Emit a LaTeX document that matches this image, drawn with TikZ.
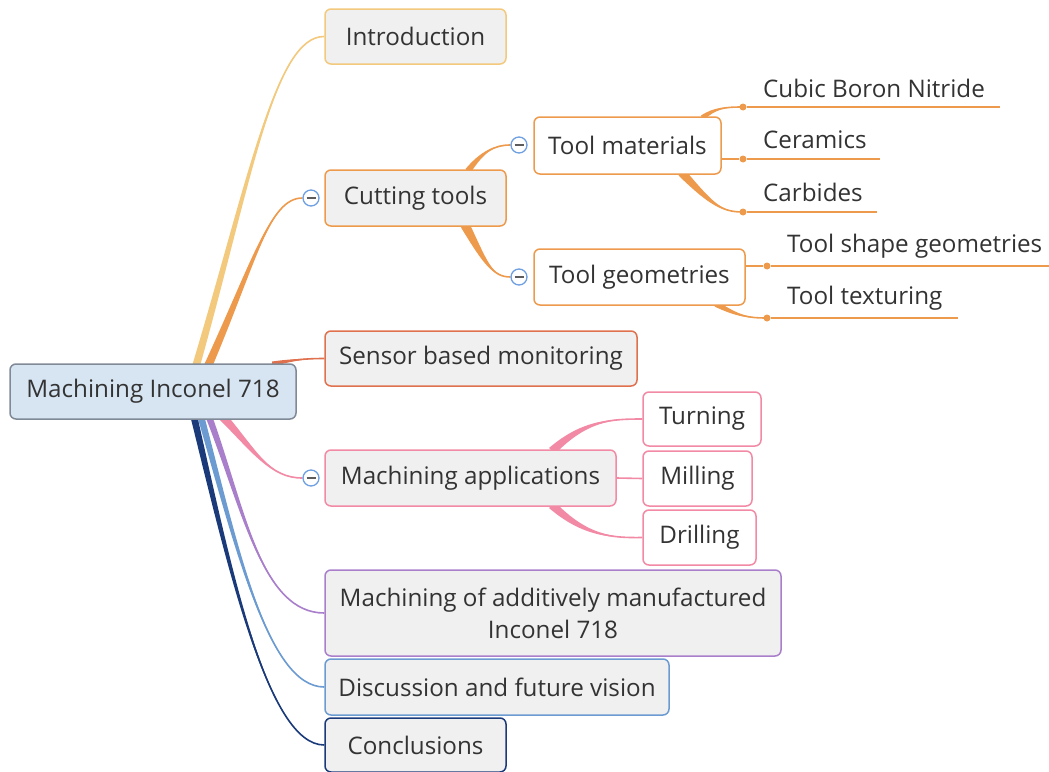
\documentclass[tikz,border=0pt]{standalone}
\usepackage{fontspec}
\setmainfont{Open Sans}
\usetikzlibrary{calc,backgrounds}
\definecolor{cyel}{HTML}{F2C97D}
\definecolor{cora}{HTML}{EE9A4D}
\definecolor{cred}{HTML}{E0714F}
\definecolor{cpink}{HTML}{F28AA5}
\definecolor{cpur}{HTML}{A97FCB}
\definecolor{cblu}{HTML}{6C9BD2}
\definecolor{cnavy}{HTML}{1B3A7A}
\definecolor{rootfill}{HTML}{D7E5F3}
\definecolor{rootline}{HTML}{7F8A96}
\definecolor{boxfill}{HTML}{F0F0F0}
\definecolor{txt}{HTML}{333333}
\definecolor{iconblue}{HTML}{6E9FE0}
\newcommand\mmtaper[6]{%
  \path ($(#1)+(#5)$) coordinate (tA) ($(#1)-(#5)$) coordinate (tB)
        ($(#2)+0.5*(#5)$) coordinate (tC) ($(#2)-0.5*(#5)$) coordinate (tD)
        (#4) coordinate (tE);
  \fill[#6] (tA) .. controls (tC) and (#3) .. (tE) .. controls (#3) and (tD) .. (tB) -- cycle;
  \draw[#6, line width=1.6] (#1) .. controls (#2) and (#3) .. (tE);}
\begin{document}
\begin{tikzpicture}[x=1pt,y=-1pt,
  every node/.style={text=txt, font=\fontsize{24.2}{32}\selectfont},
  topic/.style={draw, rounded corners=6, line width=1.5, fill=boxfill, inner sep=0pt},
  sub/.style={draw, rounded corners=6, line width=1.5, fill=white, inner sep=0pt},
  leaf/.style={anchor=west, inner sep=0pt},
  icon/.style={circle, draw=iconblue, fill=white, line width=1.3, minimum size=16, inner sep=0pt},
  dot/.style={circle, fill=cora, minimum size=7, inner sep=0pt}]
\useasboundingbox (0,0) rectangle (1049,771);
% main nodes
\node[draw=rootline, fill=rootfill, rounded corners=6, line width=1.5, minimum width=286, minimum height=55, inner sep=0pt] (root) at (153,391.5) {Machining Inconel 718};
\node[topic, draw=cyel, minimum width=181, minimum height=55] (intro) at (415.5,36.5) {Introduction};
\node[topic, draw=cora, minimum width=181, minimum height=56] (cut) at (415.5,198) {Cutting tools};
\node[topic, draw=cred, minimum width=312, minimum height=55] (sens) at (481,358.5) {Sensor based monitoring};
\node[topic, draw=cpink, minimum width=291, minimum height=56] (app) at (470.5,478) {Machining applications};
\node[topic, draw=cpur, minimum width=456, minimum height=86, align=center] (add) at (553,613) {Machining of additively manufactured\\Inconel 718};
\node[topic, draw=cblu, minimum width=344, minimum height=56] (disc) at (497,687) {Discussion and future vision};
\node[topic, draw=cnavy, minimum width=181, minimum height=54] (conc) at (415.5,745) {Conclusions};
% sub nodes
\node[sub, draw=cora, minimum width=187, minimum height=57] (mat) at (627.5,145.5) {Tool materials};
\node[sub, draw=cora, minimum width=211, minimum height=56] (geo) at (639.5,277) {Tool geometries};
\node[sub, draw=cpink, minimum width=118, minimum height=54] (turn) at (702,419) {Turning};
\node[sub, draw=cpink, minimum width=109, minimum height=55] (mill) at (697.5,478.5) {Milling};
\node[sub, draw=cpink, minimum width=113, minimum height=55] (drill) at (699.5,537.5) {Drilling};
% leaves
\node[leaf] (cbn) at (763,88) {Cubic Boron Nitride};
\node[leaf] (cer) at (763,140) {Ceramics};
\node[leaf] (carb) at (763,192) {Carbides};
\node[leaf] (shape) at (787,246) {Tool shape geometries};
\node[leaf] (tex) at (787,298) {Tool texturing};
\node[dot] (d1) at (743,107) {};
\node[dot] (d2) at (743,159) {};
\node[dot] (d3) at (743,212) {};
\node[dot] (d4) at (767,266) {};
\node[dot] (d5) at (767,318) {};
\coordinate (e1) at (1000,107);
\coordinate (e2) at (880,159);
\coordinate (e3) at (877,212);
\coordinate (e4) at (1049,266);
\coordinate (e5) at (958,318);
% icons
\node[icon] (i1) at (311,198) {};
\node[icon] (i2) at (519,145) {};
\node[icon] (i3) at (519,277) {};
\node[icon] (i4) at (311,478) {};
\foreach \i in {i1,i2,i3,i4}{\draw[txt!80, line width=1.3] ($(\i)+(-4.5,0)$) -- ($(\i)+(4.5,0)$);}
\begin{scope}[on background layer]
% start coordinates on root
\coordinate (ry) at (196,366);
\coordinate (ro) at (208,366);
\coordinate (rr) at (272,364);
\coordinate (rp) at (223,417);
\coordinate (rv) at (209,417);
\coordinate (rb) at (201,417);
\coordinate (rn) at (194,417);
\mmtaper{ry}{250,180}{275,36}{intro.west}{4,0}{cyel}
\mmtaper{ro}{255,260}{270,198}{i1.west}{4.5,0}{cora}
\mmtaper{rr}{292,360}{305,358.5}{sens.west}{0,2.5}{cred}
\mmtaper{rp}{255,452}{270,478}{i4.west}{3.5,-2.5}{cpink}
\mmtaper{rv}{244,510}{262,613}{add.west}{3.5,0}{cpur}
\mmtaper{rb}{236,545}{268,687}{disc.west}{3.5,0}{cblu}
\mmtaper{rn}{230,570}{268,745}{conc.west}{3.5,0}{cnavy}
% cutting tools children
\coordinate (c1) at (468,171);
\coordinate (c2) at (465,225);
\mmtaper{c1}{482,152}{494,145}{i2.west}{2.5,2}{cora}
\mmtaper{c2}{485,262}{492,277}{i3.west}{4,-2.5}{cora}
% tool materials leaves
\coordinate (m1) at (702,118);
\coordinate (m3) at (682,173);
\mmtaper{m1}{715,108}{725,107}{d1}{1,2.5}{cora}
\draw[cora, line width=1.6] (mat.east |- d2) -- (d2);
\mmtaper{m3}{712,205}{722,212}{d3}{3.5,-2.5}{cora}
% tool geometries leaves
\coordinate (g2) at (716,304);
\draw[cora, line width=1.6] (geo.east |- d4) -- (d4);
\mmtaper{g2}{738,316}{748,318}{d5}{1.5,-2.5}{cora}
% leaf underlines
\draw[cora, line width=1.6] (d1) -- (e1);
\draw[cora, line width=1.6] (d2) -- (e2);
\draw[cora, line width=1.6] (d3) -- (e3);
\draw[cora, line width=1.6] (d4) -- (e4);
\draw[cora, line width=1.6] (d5) -- (e5);
% applications children
\coordinate (a1) at (552,451);
\coordinate (a3) at (552,505);
\mmtaper{a1}{585,420}{612,419}{turn.west}{3,3}{cpink}
\draw[cpink, line width=1.6] (app.east) -- (mill.west);
\mmtaper{a3}{585,536}{612,538}{drill.west}{3,-3}{cpink}
\end{scope}
\end{tikzpicture}
\end{document}
